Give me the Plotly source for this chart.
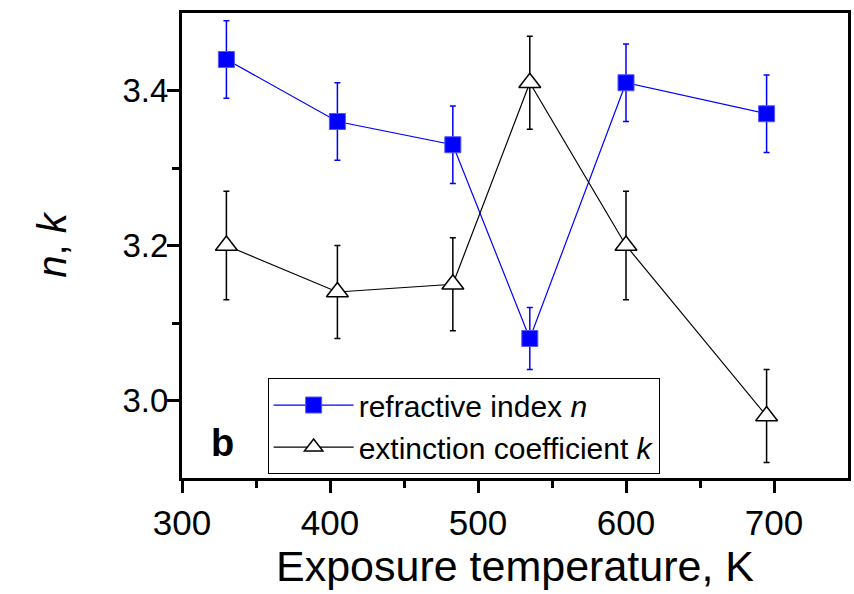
import plotly.graph_objects as go

temps = [330, 405, 483, 535, 600, 695]
n_vals = [3.44, 3.36, 3.33, 3.08, 3.41, 3.37]
n_err = [0.05, 0.05, 0.05, 0.04, 0.05, 0.05]
k_vals = [3.20, 3.14, 3.15, 3.41, 3.20, 2.98]
k_err = [0.07, 0.06, 0.06, 0.06, 0.07, 0.06]

REG = "Liberation Sans, Arial, sans-serif"

fig = go.Figure()
fig.add_trace(go.Scatter(
    x=temps, y=n_vals, mode="lines+markers",
    name="refractive index <i>n</i>",
    line=dict(color="#0000ff", width=1.2),
    marker=dict(symbol="square", size=16, color="#0000ff",
                line=dict(color="#5555ff", width=1)),
    error_y=dict(type="data", array=n_err, color="#0000ff", thickness=1.5, width=3),
))
fig.add_trace(go.Scatter(
    x=temps, y=k_vals, mode="lines+markers",
    name="extinction coefficient <i>k</i>",
    line=dict(color="black", width=1.2),
    marker=dict(symbol="triangle-up", size=19, color="white",
                line=dict(color="black", width=1.5)),
    error_y=dict(type="data", array=k_err, color="black", thickness=1.5, width=3),
))

fig.add_annotation(x=0.04, y=0.025, xref="paper", yref="paper", text="<b>b</b>",
                   showarrow=False, font=dict(family=REG, size=38, color="black"))

fig.update_layout(
    width=854, height=594,
    margin=dict(l=182, r=3, t=13, b=116),
    paper_bgcolor="white", plot_bgcolor="white",
    showlegend=True,
    legend=dict(x=0.1286, y=0.215, xanchor="left", yanchor="top",
                bordercolor="black", borderwidth=1, bgcolor="white",
                font=dict(family=REG, size=30, color="black"),
                tracegroupgap=0, itemwidth=80),
    xaxis=dict(range=[300, 750], tickvals=[300, 400, 500, 600, 700],
               ticks="outside", ticklen=12, tickwidth=3, tickcolor="black",
               minor=dict(tickvals=[350, 450, 550, 650], ticks="outside", ticklen=7,
                          tickwidth=3, tickcolor="black"),
               showline=True, linewidth=3, linecolor="black", mirror=True,
               showgrid=False, zeroline=False,
               tickfont=dict(family=REG, size=35, color="black"),
               title=dict(text="Exposure temperature, K", standoff=8,
                          font=dict(family=REG, size=43, color="black"))),
    yaxis=dict(range=[2.9, 3.5], tickvals=[3.0, 3.2, 3.4], ticktext=["3.0", "3.2", "3.4"],
               ticks="outside", ticklen=12, tickwidth=3, tickcolor="black",
               minor=dict(tickvals=[3.1, 3.3], ticks="outside", ticklen=7,
                          tickwidth=3, tickcolor="black"),
               showline=True, linewidth=3, linecolor="black", mirror=True,
               showgrid=False, zeroline=False,
               ticklabelstandoff=-8,
               tickfont=dict(family=REG, size=33, color="black"),
               title=dict(text="<i>n</i>, <i>k</i>", standoff=44,
                          font=dict(family=REG, size=40, color="black"))),
)

fig.write_html("out.html")
